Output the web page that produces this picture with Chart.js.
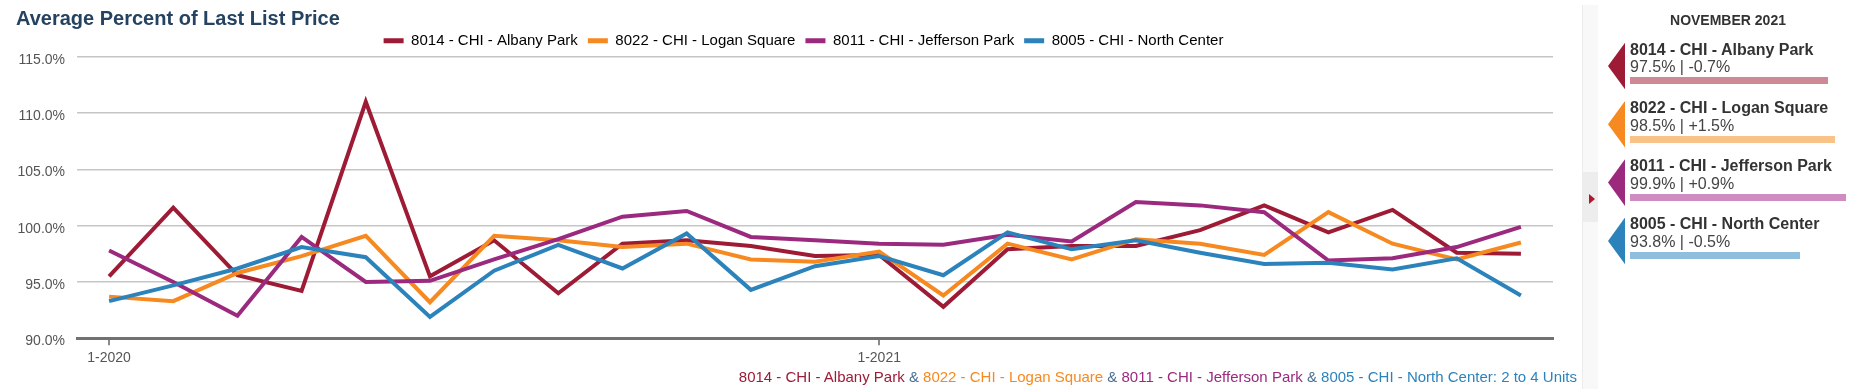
<!DOCTYPE html>
<html>
<head>
<meta charset="utf-8">
<script src="https://cdn.jsdelivr.net/npm/chart.js@4"></script>
<style>
html,body{margin:0;padding:0;background:#fff;}
body{width:1867px;height:389px;position:relative;overflow:hidden;font-family:Arial,"Liberation Sans",sans-serif;}
#c{position:absolute;left:0;top:0;}
#title{position:absolute;left:16px;top:7.6px;font-size:20px;line-height:20px;font-weight:bold;color:#254361;white-space:nowrap;}
#subtitle{position:absolute;right:290px;top:369px;font-size:15px;line-height:15px;white-space:nowrap;}
#strip{position:absolute;left:1582px;top:5px;width:15px;height:384px;background:#f8f8f8;border-left:1px solid #ececec;}
#stripSel{position:absolute;left:0;top:167px;width:15px;height:50px;background:#ededed;}
#stripArrow{position:absolute;left:6px;top:22px;width:0;height:0;border-top:5px solid transparent;border-bottom:5px solid transparent;border-left:6px solid #b0172f;}
#panelHead{position:absolute;left:1598px;top:13.2px;width:260px;text-align:center;font-size:14px;line-height:14px;font-weight:bold;color:#333;}
.entry{position:absolute;left:1608px;width:250px;height:50px;}
.entry .tri{position:absolute;left:0;top:0;width:17px;height:46.6px;clip-path:polygon(100% 0,0 50%,100% 100%);}
.entry .nm{position:absolute;left:22px;top:-1.2px;font-size:16px;line-height:16px;font-weight:bold;color:#333;white-space:nowrap;}
.entry .vl{position:absolute;left:22px;top:16.5px;font-size:16px;line-height:16px;color:#444;white-space:nowrap;}
.entry .bar{position:absolute;left:22px;top:34.6px;height:7px;}
</style>
</head>
<body>
<canvas id="c" width="1607" height="389"></canvas>
<div id="title">Average Percent of Last List Price</div>
<div id="subtitle"></div>
<div id="strip"><div id="stripSel"><div id="stripArrow"></div></div></div>
<div id="panelHead">NOVEMBER 2021</div>
<div id="panel"></div>
<script>
// ---- data ----
const categories = ['1-2020','2-2020','3-2020','4-2020','5-2020','6-2020','7-2020','8-2020','9-2020','10-2020','11-2020','12-2020',
                    '1-2021','2-2021','3-2021','4-2021','5-2021','6-2021','7-2021','8-2021','9-2021','10-2021','11-2021'];
const seriesNames = ['8014 - CHI - Albany Park','8022 - CHI - Logan Square','8011 - CHI - Jefferson Park','8005 - CHI - North Center'];
const albanyPark    = [95.5,101.6,95.6,94.2,111.0,95.5,98.7,94.0,98.4,98.7,98.2,97.3,97.4,92.8,97.9,98.2,98.2,99.6,101.8,99.4,101.4,97.6,97.5];
const loganSquare   = [93.7,93.3,95.8,97.3,99.1,93.2,99.1,98.7,98.1,98.4,97.0,96.8,97.7,93.8,98.4,97.0,98.8,98.4,97.4,101.2,98.4,97.0,98.5];
const jeffersonPark = [97.8,95.0,92.0,99.0,95.0,95.1,97.0,98.8,100.8,101.3,99.0,98.7,98.4,98.3,99.2,98.6,102.1,101.8,101.2,96.9,97.1,98.1,99.9];
const northCenter   = [93.3,94.7,96.2,98.1,97.2,91.9,96.0,98.3,96.2,99.3,94.3,96.4,97.3,95.6,99.4,97.9,98.7,97.6,96.6,96.7,96.1,97.1,93.8];
const yTickValues = [90,95,100,105,110,115];
const subtitleSuffix = ': 2 to 4 Units';

// ---- styles ----
const colors = ['#9e1b36','#f6891f','#9b2a7f','#2c83bb'];
const lightColors = ['#cf8896','#f9c287','#cf8cc0','#90bfdd'];
const allSeries = [albanyPark, loganSquare, jeffersonPark, northCenter];

Chart.defaults.font.family = 'Arial, "Liberation Sans", sans-serif';

new Chart(document.getElementById('c'), {
  type: 'line',
  data: {
    labels: categories,
    datasets: allSeries.map((d, i) => ({
      label: seriesNames[i],
      data: d,
      yAxisID: 'y',
      borderColor: colors[i],
      backgroundColor: colors[i],
      borderWidth: 4,
      pointRadius: 0,
      pointHoverRadius: 0,
      tension: 0,
      fill: false,
      borderJoinStyle: 'miter',
      borderCapStyle: 'butt',
      order: 3 - i
    }))
  },
  options: {
    responsive: false,
    animation: false,
    devicePixelRatio: 1,
    layout: { padding: { left: 0, right: 0, top: 23.2, bottom: 0 } },
    plugins: {
      title: { display: false },
      tooltip: { enabled: false },
      legend: {
        position: 'top',
        align: 'center',
        maxHeight: 33.5,
        labels: {
          boxWidth: 20,
          boxHeight: 5,
          padding: 10,
          color: '#3c4650',
          font: { size: 15 },
          generateLabels: () => seriesNames.map((n, i) => ({
            text: n, fillStyle: colors[i], strokeStyle: colors[i], lineWidth: 0, hidden: false, datasetIndex: i
          }))
        }
      }
    },
    scales: {
      x: {
        type: 'category',
        offset: true,
        grid: {
          drawOnChartArea: false,
          drawTicks: true,
          tickLength: 7,
          lineWidth: 2,
          color: ctx => (ctx.index % 12 === 0 ? '#8a8a8a' : 'rgba(0,0,0,0)')
        },
        border: { display: true, color: '#717171', width: 3 },
        ticks: {
          autoSkip: false,
          maxRotation: 0,
          minRotation: 0,
          padding: 4,
          color: '#555',
          font: { size: 14 },
          callback: (v, i) => (categories[i].startsWith('1-') ? categories[i] : '')
        },
        afterFit: s => { s.height = 50.7; }
      },
      y: {
        position: 'left',
        min: yTickValues[0],
        max: yTickValues[yTickValues.length - 1],
        afterBuildTicks: s => { s.ticks = yTickValues.map(v => ({ value: v })); },
        grid: {
          drawTicks: false,
          lineWidth: 1.5,
          color: ctx => (ctx.tick && ctx.tick.value === yTickValues[0] ? 'rgba(0,0,0,0)' : '#c6c6c6')
        },
        border: { display: false },
        ticks: {
          padding: 12,
          labelOffset: 3,
          color: '#555',
          font: { size: 14 },
          callback: v => v.toFixed(1) + '%'
        },
        afterFit: s => { s.width = 77; }
      },
      yRightSpace: {
        type: 'linear',
        position: 'right',
        display: true,
        grid: { display: false, drawTicks: false },
        border: { display: false },
        ticks: { display: false },
        afterFit: s => { s.width = 54; }
      }
    }
  }
});

// subtitle
const sub = document.getElementById('subtitle');
seriesNames.forEach((n, i) => {
  if (i > 0) {
    const amp = document.createElement('span');
    amp.textContent = ' & ';
    amp.style.color = '#4a6f95';
    sub.appendChild(amp);
  }
  const s = document.createElement('span');
  s.textContent = n + (i === seriesNames.length - 1 ? subtitleSuffix : '');
  s.style.color = colors[i];
  sub.appendChild(s);
});

// side panel
const panel = document.getElementById('panel');
const barMin = 71.25, barPxPerUnit = 7.54;
seriesNames.forEach((n, i) => {
  const d = allSeries[i];
  const last = d[d.length - 1];
  const prevYear = d[d.length - 13];
  const chg = last - prevYear;
  const e = document.createElement('div');
  e.className = 'entry';
  e.style.top = (42.7 + i * 58.3) + 'px';
  const tri = document.createElement('div'); tri.className = 'tri'; tri.style.background = colors[i];
  const nm = document.createElement('div'); nm.className = 'nm'; nm.textContent = n;
  const vl = document.createElement('div'); vl.className = 'vl';
  vl.textContent = last.toFixed(1) + '% | ' + (chg >= 0 ? '+' : '') + chg.toFixed(1) + '%';
  const bar = document.createElement('div'); bar.className = 'bar';
  bar.style.background = lightColors[i];
  bar.style.width = ((last - barMin) * barPxPerUnit) + 'px';
  e.appendChild(tri); e.appendChild(nm); e.appendChild(vl); e.appendChild(bar);
  panel.appendChild(e);
});
</script>
</body>
</html>
